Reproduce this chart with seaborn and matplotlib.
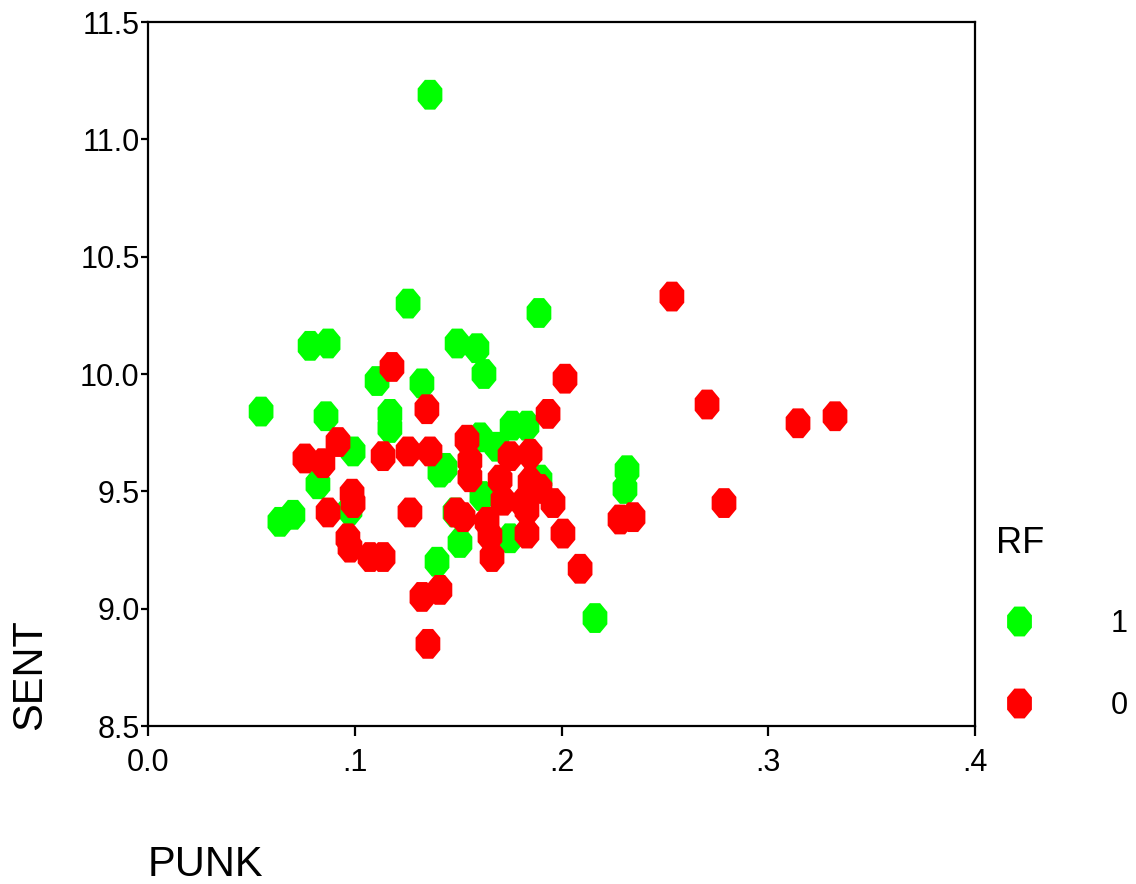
import numpy as np
import pandas as pd
import matplotlib
matplotlib.use("Agg")
import matplotlib.pyplot as plt
from matplotlib.lines import Line2D
import seaborn as sns

# ---- data ----
punk_rf1 = [0.1364, 0.0547, 0.0784, 0.0871, 0.1258, 0.1891, 0.1495, 0.1591, 0.1625,
            0.1108, 0.1325, 0.1170, 0.1170, 0.0861, 0.0992, 0.0822, 0.0701, 0.0638,
            0.0977, 0.1398, 0.2162, 0.2317, 0.2307, 0.1761, 0.1833, 0.1606, 0.1688,
            0.1437, 0.1412, 0.1615, 0.1485, 0.1509, 0.1751, 0.1896]
sent_rf1 = [11.19, 9.84, 10.12, 10.13, 10.30, 10.26, 10.13, 10.11, 10.00,
            9.97, 9.96, 9.83, 9.77, 9.82, 9.67, 9.53, 9.40, 9.37,
            9.42, 9.20, 8.96, 9.59, 9.51, 9.78, 9.78, 9.73, 9.69,
            9.60, 9.58, 9.48, 9.41, 9.28, 9.30, 9.55]
punk_rf0 = [0.1180, 0.1349, 0.0919, 0.0759, 0.0846, 0.1137, 0.1258, 0.1364, 0.0987,
            0.0992, 0.0871, 0.1267, 0.0967, 0.0977, 0.1074, 0.1137, 0.1325, 0.1412,
            0.1354, 0.2534, 0.2017, 0.2704, 0.3144, 0.3323, 0.2786, 0.2090, 0.2007,
            0.1935, 0.2283, 0.2346, 0.1543, 0.1557, 0.1557, 0.1751, 0.1848, 0.1703,
            0.1848, 0.1959, 0.1717, 0.1814, 0.1524, 0.1640, 0.1654, 0.1833, 0.1664,
            0.1833, 0.1490, 0.1896]
sent_rf0 = [10.03, 9.85, 9.71, 9.64, 9.62, 9.65, 9.67, 9.67, 9.49,
            9.45, 9.41, 9.41, 9.30, 9.26, 9.22, 9.22, 9.05, 9.08,
            8.85, 10.33, 9.98, 9.87, 9.79, 9.82, 9.45, 9.17, 9.32,
            9.83, 9.38, 9.39, 9.72, 9.63, 9.56, 9.65, 9.66, 9.55,
            9.54, 9.45, 9.46, 9.45, 9.39, 9.37, 9.31, 9.32, 9.22,
            9.42, 9.41, 9.51]

groups = ["1", "0"]
colors = {"1": "#00ff00", "0": "#ff0000"}
x_ticks = [0.0, 0.1, 0.2, 0.3, 0.4]
x_ticklabels = ["0.0", ".1", ".2", ".3", ".4"]
y_ticks = [8.5, 9.0, 9.5, 10.0, 10.5, 11.0, 11.5]
y_ticklabels = ["8.5", "9.0", "9.5", "10.0", "10.5", "11.0", "11.5"]

df = pd.DataFrame({
    "PUNK": punk_rf1 + punk_rf0,
    "SENT": sent_rf1 + sent_rf0,
    "RF": ["1"] * len(punk_rf1) + ["0"] * len(punk_rf0),
})

sns.set_style("white")
plt.rcParams["font.family"] = ["Liberation Sans", "DejaVu Sans"]
plt.rcParams["text.color"] = "black"
plt.rcParams["xtick.color"] = "black"
plt.rcParams["ytick.color"] = "black"

# slightly tall octagon marker
ang = np.deg2rad(22.5 + 45 * np.arange(8))
octa = list(zip(0.83 * np.cos(ang), np.sin(ang)))

fig = plt.figure(figsize=(11.36, 8.84), dpi=100)
ax = fig.add_axes([148 / 1136, 1 - 726 / 884, (975 - 148) / 1136, (726 - 22) / 884])

sns.scatterplot(data=df, x="PUNK", y="SENT", hue="RF", hue_order=groups,
                palette=colors, marker=octa, s=460, linewidth=0, alpha=1,
                legend=False, ax=ax)

ax.set_xlim(0, 0.4)
ax.set_ylim(8.5, 11.5)
ax.set_xticks(x_ticks)
ax.set_xticklabels(x_ticklabels)
ax.set_yticks(y_ticks)
ax.set_yticklabels(y_ticklabels)
ax.set_xlabel("")
ax.set_ylabel("")
for sp in ax.spines.values():
    sp.set_visible(True)
    sp.set_color("black")
    sp.set_linewidth(1.6)
ax.tick_params(axis="both", direction="out", colors="black", labelcolor="black",
               labelsize=22, width=1.6, bottom=True, left=True)
ax.tick_params(axis="x", length=7, pad=9)
ax.tick_params(axis="y", length=5, pad=1)

fig.text(30 / 1136, 1 - 675 / 884, "SENT", rotation=90, fontsize=30,
         ha="center", va="center", color="black")
fig.text(148 / 1136, 1 - 876 / 884, "PUNK", fontsize=30, ha="left",
         va="baseline", color="black")

handles = [Line2D([], [], linestyle="none", marker=octa, markersize=21.5,
                  markerfacecolor=colors[g], markeredgewidth=0) for g in groups]
leg = ax.legend(handles, groups, title="RF", loc="upper left",
                bbox_to_anchor=(981 / 1136, 1 - 511 / 884),
                bbox_transform=fig.transFigure, frameon=False, fontsize=22,
                title_fontsize=26, handletextpad=2.25, labelspacing=1.71,
                borderpad=0, handlelength=1.5, alignment="left")
leg._legend_box.sep = 34
for t in leg.get_texts():
    t.set_color("black")
leg.get_title().set_color("black")

fig.savefig("out.png", dpi=100, facecolor="white")
